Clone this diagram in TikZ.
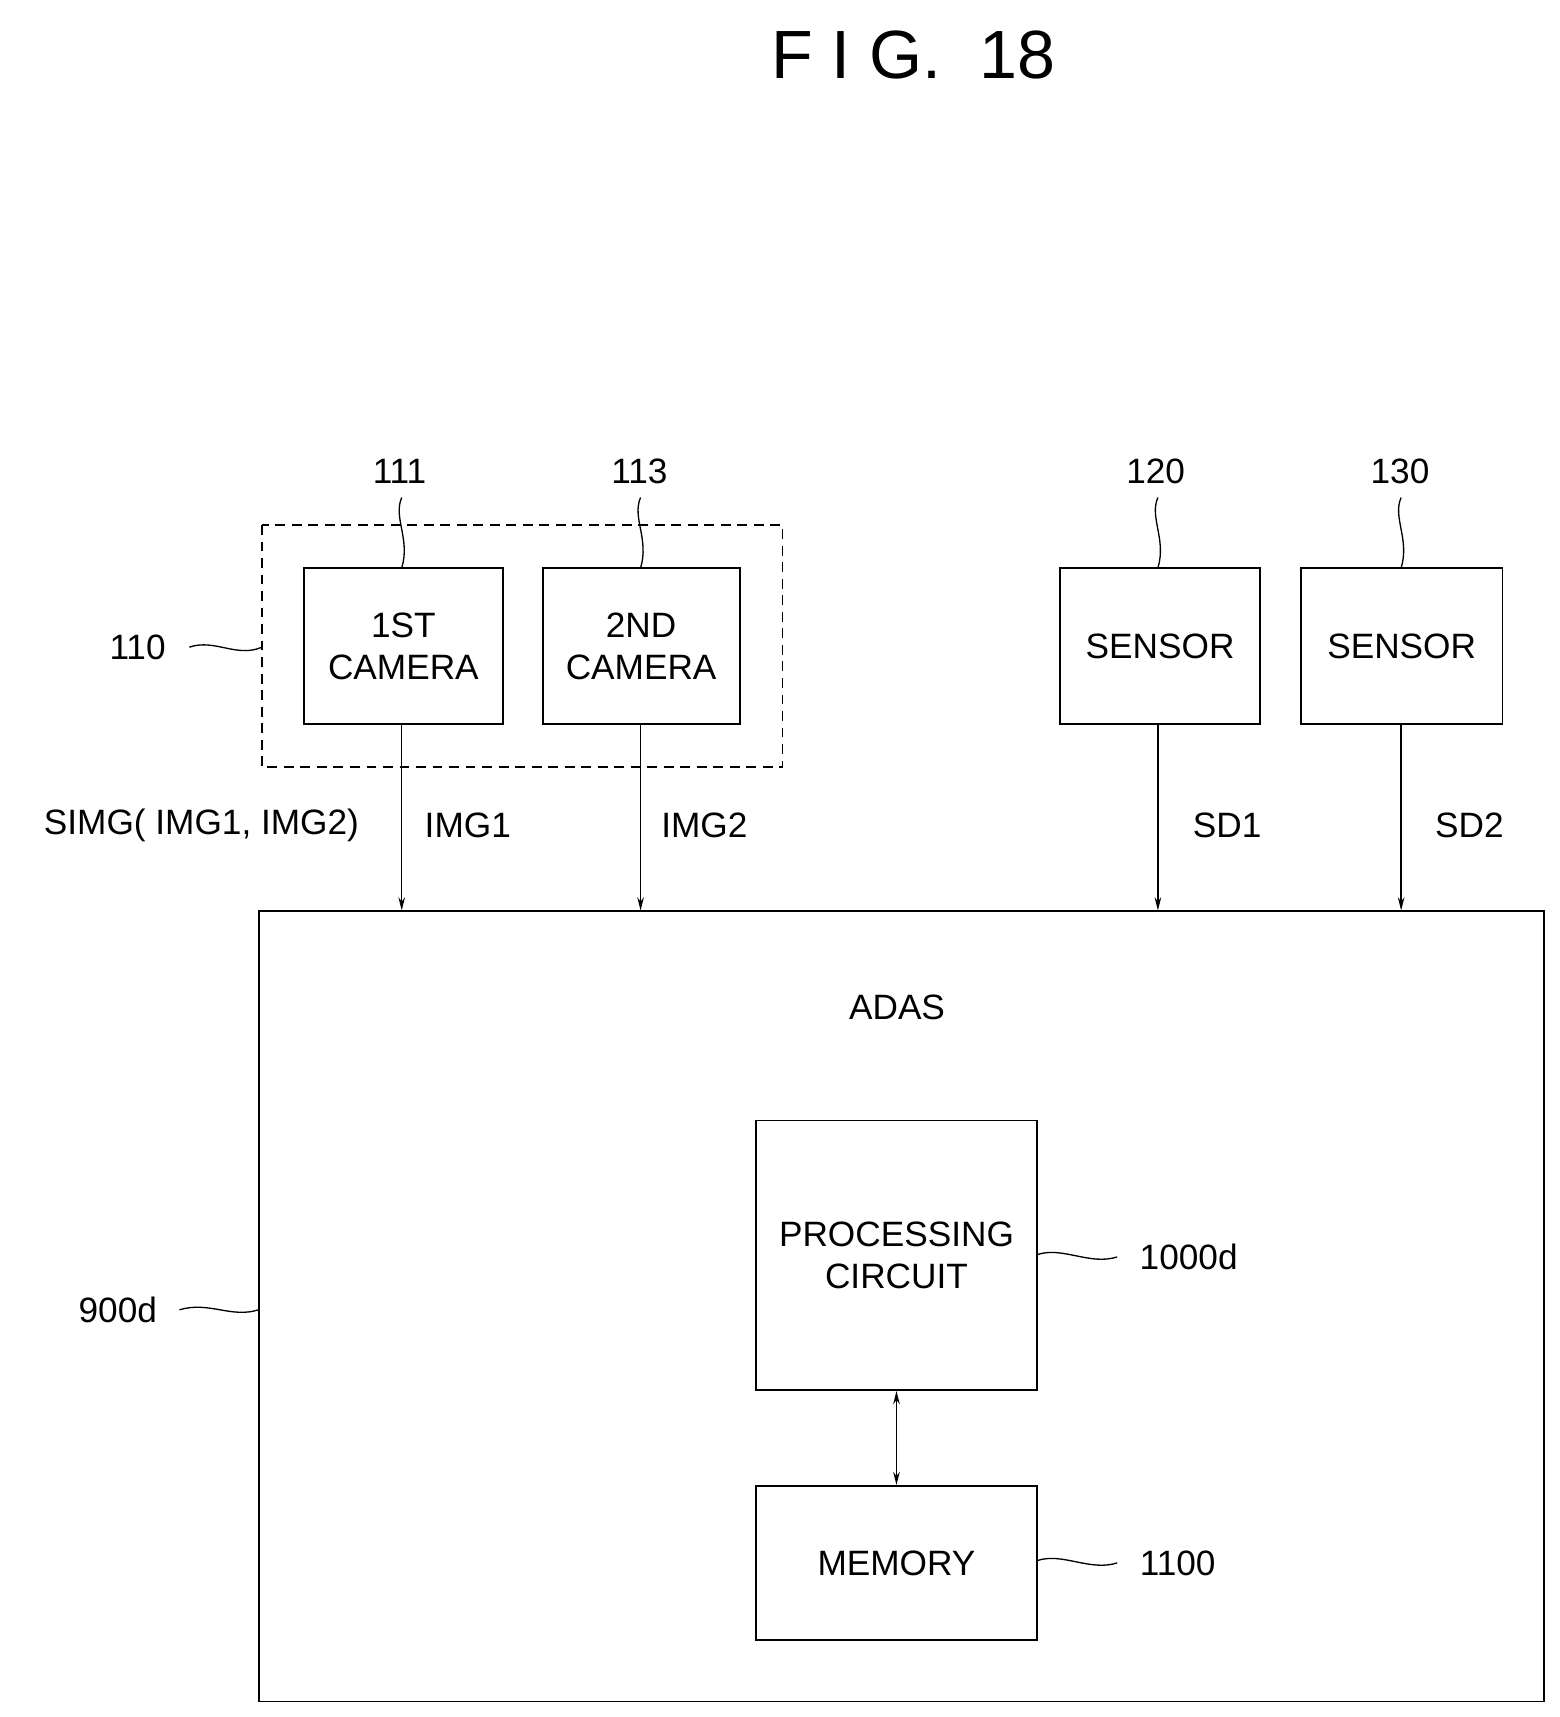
\documentclass[tikz,border=0pt]{standalone}
\usepackage{fontspec}
\setmainfont{Liberation Sans}
\usetikzlibrary{arrows.meta}
\begin{document}
\begin{tikzpicture}[x=1pt,y=-1pt,
  box/.style={draw,line width=1.6pt,inner sep=0pt},
  lbl/.style={font=\fontsize{32}{38}\selectfont,align=center},
  arr/.style={line width=1.3pt,-{Stealth[length=12pt,width=6pt]}},
  lead/.style={line width=1.2pt}]
\useasboundingbox (0,0) rectangle (1417,1560);
\node[font=\fontsize{62}{70}\selectfont] (title) at (830,50) {F I G.\ \ 18};
% dashed group
\draw[line width=1.3pt,dash pattern=on 9pt off 6pt] (238,477) rectangle (711,697);
\coordinate (g110) at (238,588);
\node[box,minimum width=181pt,minimum height=142pt,lbl] (c1) at (366.5,587) {1ST\\CAMERA};
\node[box,minimum width=179pt,minimum height=142pt,lbl] (c2) at (582.5,587) {2ND\\CAMERA};
\node[box,minimum width=182pt,minimum height=142pt,lbl] (s1) at (1054,587) {SENSOR};
\node[box,minimum width=183pt,minimum height=142pt,lbl] (s2) at (1273.5,587) {SENSOR};
\node[box,minimum width=1168pt,minimum height=718pt] (adas) at (819,1187) {};
\node[lbl] at (815,915) {ADAS};
\node[box,minimum width=255pt,minimum height=245pt,lbl] (pc) at (814.5,1140.5) {PROCESSING\\CIRCUIT};
\node[box,minimum width=255pt,minimum height=140pt,lbl] (mem) at (814.5,1420) {MEMORY};
% arrows
\draw[arr] (c1.south -| 365,0) -- (adas.north -| 365,0);
\draw[arr] (c2.south -| 582,0) -- (adas.north -| 582,0);
\draw[arr] (s1.south -| 1052,0) -- (adas.north -| 1052,0);
\draw[arr] (s2.south -| 1273,0) -- (adas.north -| 1273,0);
\draw[line width=1.3pt,{Stealth[length=12pt,width=6pt]}-{Stealth[length=12pt,width=6pt]}] (pc.south) -- (mem.north);
% signal labels
\node[lbl] (simg) at (183,750) {SIMG( IMG1, IMG2)};
\node[lbl] (i1) at (425,750) {IMG1};
\node[lbl] (i2) at (640,750) {IMG2};
\node[lbl] (sd1) at (1115,750) {SD1};
\node[lbl] (sd2) at (1335,750) {SD2};
% reference numerals
\node[lbl] (n111) at (363,428) {111};
\node[lbl] (n113) at (581,428) {113};
\node[lbl] (n120) at (1050,428) {120};
\node[lbl] (n130) at (1272,428) {130};
\node[lbl] (n110) at (125,588) {110};
\node[lbl] (n900) at (107,1190) {900d};
\node[lbl] (n1000) at (1080,1142) {1000d};
\node[lbl] (n1100) at (1070,1420) {1100};
% vertical wavy leaders
\foreach \n/\b/\x in {n111/c1/365,n113/c2/582,n120/s1/1052,n130/s2/1273}{
  \draw[lead] (\x,452) .. controls (\x-8,470) and (\x+8,490) .. (\x,\x*0+516);
}
% horizontal wavy leaders
\draw[lead] (172,588) .. controls (195,580) and (215,598) .. (g110);
\draw[lead] (163,1190) .. controls (190,1182) and (210,1198) .. (235,1190);
\draw[lead] (942,1140) .. controls (965,1132) and (990,1150) .. (1015,1142);
\draw[lead] (942,1418) .. controls (965,1410) and (990,1428) .. (1015,1420);
\end{tikzpicture}
\end{document}
